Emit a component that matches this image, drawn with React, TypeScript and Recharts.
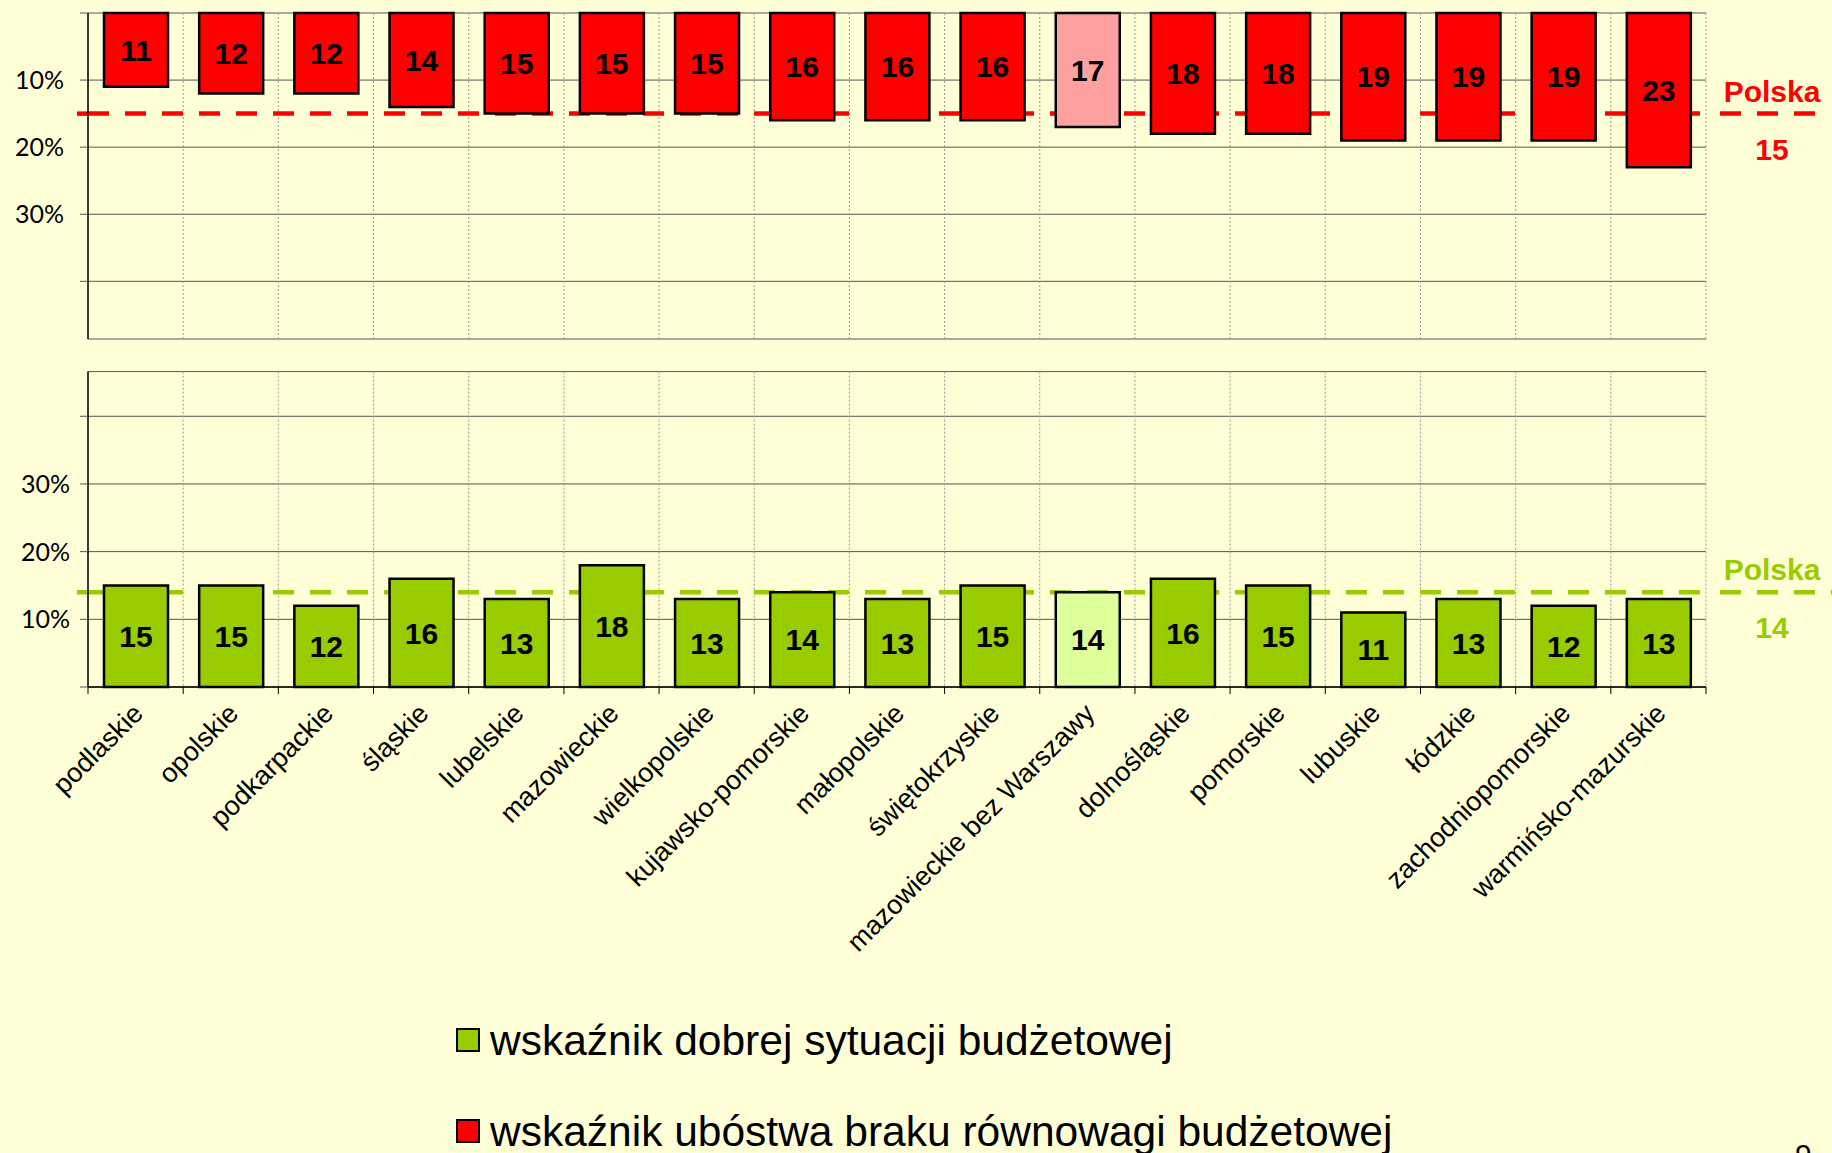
import React from "react";
import {
  BarChart,
  Bar,
  XAxis,
  YAxis,
  CartesianGrid,
  ReferenceLine,
  LabelList,
  Cell,
} from "recharts";

const REGIONS = [
  "podlaskie",
  "opolskie",
  "podkarpackie",
  "śląskie",
  "lubelskie",
  "mazowieckie",
  "wielkopolskie",
  "kujawsko-pomorskie",
  "małopolskie",
  "świętokrzyskie",
  "mazowieckie bez Warszawy",
  "dolnośląskie",
  "pomorskie",
  "lubuskie",
  "łódzkie",
  "zachodniopomorskie",
  "warmińsko-mazurskie",
];
const POVERTY = [11, 12, 12, 14, 15, 15, 15, 16, 16, 16, 17, 18, 18, 19, 19, 19, 23];
const GOOD = [15, 15, 12, 16, 13, 18, 13, 14, 13, 15, 14, 16, 15, 11, 13, 12, 13];
const HIGHLIGHT = "mazowieckie bez Warszawy";
const POLSKA_POVERTY = 15;
const POLSKA_GOOD = 14;
const Y_TICKS = [0, 10, 20, 30, 40];
const LABELED_TICKS = [10, 20, 30];
const TOP_MAX = 48.6;
const BOTTOM_MAX = 46.6;
const LEGEND_ITEMS = [
  { name: "wskaźnik dobrej sytuacji budżetowej", color: "#99CC00" },
  { name: "wskaźnik ubóstwa braku równowagi budżetowej", color: "#FF0000" },
];

const DATA = REGIONS.map((region, i) => ({
  region,
  poverty: POVERTY[i],
  good: GOOD[i],
}));

const BG = "#FFFFD7";
const FONT = '"Liberation Sans", Arial, sans-serif';
const RED = "#FF0000";
const RED_LIGHT = "#FFA0A0";
const GREEN = "#99CC00";
const GREEN_LIGHT = "#DDFF99";
const DASH = "21 16";
const DASH_W = 4.5;

const W = 1832;
const LEFT = 88;
const RIGHT = 126;
const PLOT_W = W - LEFT - RIGHT;
const BAND = PLOT_W / REGIONS.length;

const pct = (v: number) => (LABELED_TICKS.includes(v) ? `${v}%` : "");

const boundaries = (props: any) => {
  const left = props?.offset?.left ?? LEFT;
  const width = props?.offset?.width ?? PLOT_W;
  return Array.from({ length: REGIONS.length + 1 }, (_, i) => left + (i * width) / REGIONS.length);
};

// the dashed "Polska" line inside the plot is drawn as a grid row so it stays under the bars
const polskaRow = (value: number, max: number, reversed: boolean) => (props: any) => {
  const s = props?.yAxis?.scale;
  try {
    if (typeof s === "function") return [s(value)];
    if (s && typeof s.map === "function") {
      const r = s.map(value);
      if (typeof r === "number" && !isNaN(r)) return [r];
    }
  } catch (e) {
    // fall through to the offset-based position
  }
  const top = props?.offset?.top ?? 0;
  const h = props?.offset?.height ?? 0;
  const f = value / max;
  return [reversed ? top + h * f : top + h * (1 - f)];
};

// the part of the "Polska" line outside the plot, plus its label
function polskaShape(color: string, value: number, extend: number) {
  return (props: any) => {
    const { x1, y1, x2 } = props;
    return (
      <g>
        <line x1={x1 - 11} y1={y1} x2={x1} y2={y1} stroke={color} strokeWidth={DASH_W} />
        <line
          x1={x2 + 14}
          y1={y1}
          x2={x2 + extend}
          y2={y1}
          stroke={color}
          strokeWidth={DASH_W}
          strokeDasharray={DASH}
        />
        <text x={x2 + 66} y={y1 - 12} textAnchor="middle" fill={color} fontSize={30} fontWeight="bold" fontFamily={FONT}>
          Polska
        </text>
        <text x={x2 + 66} y={y1 + 46} textAnchor="middle" fill={color} fontSize={30} fontWeight="bold" fontFamily={FONT}>
          {value}
        </text>
      </g>
    );
  };
}

function RegionTick(props: any) {
  const { x, y, payload, index } = props;
  const tx = x + 9;
  const ty = y + 28;
  return (
    <g>
      <line x1={x - BAND / 2} x2={x - BAND / 2} y1={y} y2={y + 7} stroke="#000" />
      {index === REGIONS.length - 1 && (
        <line x1={x + BAND / 2} x2={x + BAND / 2} y1={y} y2={y + 7} stroke="#000" />
      )}
      <text
        x={tx}
        y={ty}
        textAnchor="end"
        transform={`rotate(-45 ${tx} ${ty})`}
        fontSize={27}
        fontFamily={FONT}
        fill="#000"
      >
        {payload.value}
      </text>
    </g>
  );
}

const barLabel = {
  fill: "#000",
  fontSize: 30,
  fontWeight: "bold",
  fontFamily: FONT,
};

export default function App() {
  return (
    <div
      style={{
        position: "absolute",
        left: 0,
        top: 0,
        width: W,
        height: 1153,
        background: BG,
        overflow: "hidden",
      }}
    >
      <div style={{ position: "absolute", left: 0, top: 0 }}>
        <BarChart width={W} height={345} data={DATA} margin={{ top: 13, right: RIGHT, bottom: 6, left: 0 }}>
          <CartesianGrid vertical={false} stroke="#555" />
          <CartesianGrid
            horizontal={false}
            stroke="#999"
            strokeDasharray="2 2"
            verticalCoordinatesGenerator={boundaries}
          />
          <CartesianGrid
            vertical={false}
            stroke={RED}
            strokeWidth={DASH_W}
            strokeDasharray={DASH}
            horizontalCoordinatesGenerator={polskaRow(POLSKA_POVERTY, TOP_MAX, true)}
          />
          <XAxis dataKey="region" hide />
          <YAxis
            width={LEFT}
            reversed
            domain={[0, TOP_MAX]}
            ticks={Y_TICKS}
            tickFormatter={pct}
            axisLine={{ stroke: "#000", strokeWidth: 1.5 }}
            tickLine={{ stroke: "#555" }}
            tickSize={8}
            tickMargin={16}
            tick={{ fill: "#000", fontSize: 25, fontFamily: "Lato, sans-serif" }}
            interval={0}
          />
          <ReferenceLine y={POLSKA_POVERTY} shape={polskaShape(RED, POLSKA_POVERTY, 109)} />
          <Bar dataKey="poverty" barSize={64} stroke="#000" strokeWidth={2.5} isAnimationActive={false}>
            {DATA.map((d) => (
              <Cell key={d.region} fill={d.region === HIGHLIGHT ? RED_LIGHT : RED} />
            ))}
            <LabelList dataKey="poverty" position="center" {...barLabel} />
          </Bar>
        </BarChart>
      </div>

      <div style={{ position: "absolute", left: 0, top: 350 }}>
        <BarChart width={W} height={803} data={DATA} margin={{ top: 21.6, right: RIGHT, bottom: 0, left: 0 }}>
          <CartesianGrid vertical={false} stroke="#555" />
          <CartesianGrid
            horizontal={false}
            stroke="#999"
            strokeDasharray="2 2"
            verticalCoordinatesGenerator={boundaries}
          />
          <CartesianGrid
            vertical={false}
            stroke={GREEN}
            strokeWidth={DASH_W}
            strokeDasharray={DASH}
            horizontalCoordinatesGenerator={polskaRow(POLSKA_GOOD, BOTTOM_MAX, false)}
          />
          <XAxis
            dataKey="region"
            height={466}
            interval={0}
            axisLine={{ stroke: "#000", strokeWidth: 1.5 }}
            tickLine={false}
            tickSize={0}
            tickMargin={0}
            tick={(p: any) => <RegionTick {...p} />}
          />
          <YAxis
            width={LEFT}
            domain={[0, BOTTOM_MAX]}
            ticks={Y_TICKS}
            tickFormatter={pct}
            axisLine={{ stroke: "#000", strokeWidth: 1.5 }}
            tickLine={{ stroke: "#555" }}
            tickSize={8}
            tickMargin={10}
            tick={{ fill: "#000", fontSize: 25, fontFamily: "Lato, sans-serif" }}
            interval={0}
          />
          <ReferenceLine y={POLSKA_GOOD} shape={polskaShape(GREEN, POLSKA_GOOD, 140)} />
          <Bar dataKey="good" barSize={64} stroke="#000" strokeWidth={2.5} isAnimationActive={false}>
            {DATA.map((d) => (
              <Cell key={d.region} fill={d.region === HIGHLIGHT ? GREEN_LIGHT : GREEN} />
            ))}
            <LabelList dataKey="good" position="center" {...barLabel} />
          </Bar>
        </BarChart>
      </div>

      <svg width={1000} height={153} style={{ position: "absolute", left: 440, top: 1000 }}>
        {LEGEND_ITEMS.map((item, i) => (
          <g key={item.name}>
            <rect
              x={17}
              y={29 + i * 91}
              width={22}
              height={22}
              fill={item.color}
              stroke="#000"
              strokeWidth={2}
            />
            <text x={50} y={55 + i * 91} fontSize={42.5} fontFamily={FONT} fill="#000">
              {item.name}
            </text>
          </g>
        ))}
      </svg>

      <svg width={60} height={30} style={{ position: "absolute", left: 1780, top: 1123 }}>
        <text x={15} y={42} fontSize={30} fontFamily={FONT} fill="#000">
          9
        </text>
      </svg>
    </div>
  );
}
